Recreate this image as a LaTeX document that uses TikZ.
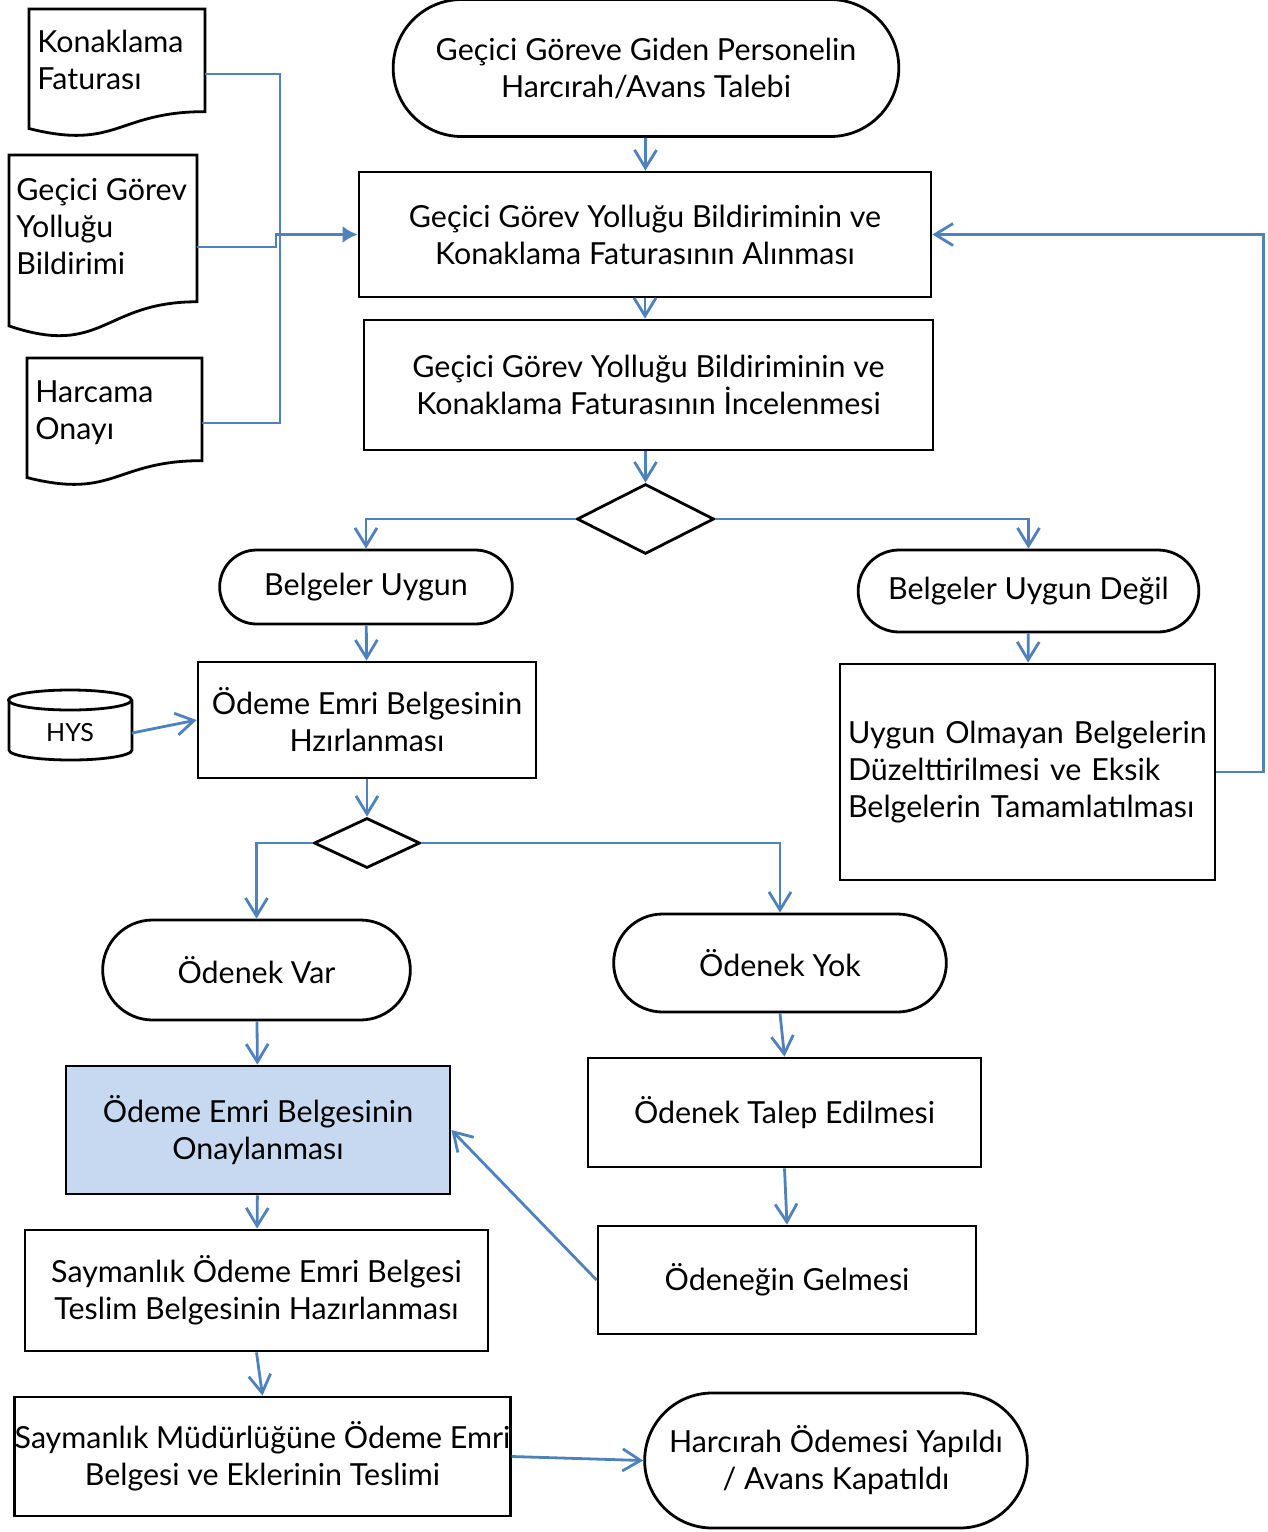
\documentclass[tikz,border=0pt]{standalone}
\usepackage{fontspec}
\setmainfont{Lato}
\usepackage{tikz}
\usetikzlibrary{shapes.geometric, shapes.misc, arrows.meta, positioning, calc}
\definecolor{flowblue}{RGB}{79,129,189}
\definecolor{approvefill}{RGB}{198,217,241}
\tikzstyle{process} = [rectangle, draw=black, line width=1.4pt, align=center, inner sep=3pt]
\tikzstyle{terminal} = [rounded rectangle, draw=black, line width=1.4pt, align=center]
\tikzstyle{decision} = [diamond, draw=black, line width=1.4pt, inner sep=0pt]
\tikzstyle{doctext} = [anchor=north west, inner sep=0pt, align=left]
\tikzstyle{link} = [line width=1.4pt, draw=flowblue, -{Straight Barb[length=9pt,width=11pt]}]
% document outline: left x, top y, right x, full height
\newcommand{\docshape}[4]{%
  \draw[line width=1.4pt] (#1,#2) -- (#3,#2) -- (#3,{#2+0.802*#4})
    .. controls ({(#1+#3)/2},{#2+0.802*#4}) and ({(#1+#3)/2},{#2+1.1075*#4}) .. (#1,{#2+0.934*#4}) -- cycle;}

\begin{document}
\begin{tikzpicture}[x=0.5pt, y=-0.5pt, font=\fontsize{15.2}{18.5}\selectfont]
    \useasboundingbox (0,0) rectangle (1268,1532);

    % Input documents
    \docshape{29}{9}{205}{128}
    \docshape{9}{155}{197}{183}
    \docshape{27}{358}{202}{128}
    \node[doctext] (doc1) at (37,30) {Konaklama\\Faturası};
    \node[doctext] (doc2) at (16,178) {Geçici Görev\\Yolluğu\\Bildirimi};
    \node[doctext] (doc3) at (35,380) {Harcama\\Onayı};
    \coordinate (doc1out) at (205,74);
    \coordinate (doc2out) at (197,247);
    \coordinate (doc3out) at (202,423);
    \coordinate (join) at (280,235);

    % Main flow
    \node[terminal, minimum width=259.5pt, minimum height=68.5pt] (start) at (646,68) {Geçici Göreve Giden Personelin\\Harcırah/Avans Talebi};
    \node[process, minimum width=286pt, minimum height=62.5pt] (recv) at (645,234.5) {Geçici Görev Yolluğu Bildiriminin ve\\Konaklama Faturasının Alınması};
    \node[process, minimum width=284.5pt, minimum height=65pt] (review) at (648.5,385) {Geçici Görev Yolluğu Bildiriminin ve\\Konaklama Faturasının İncelenmesi};
    \node[decision, minimum width=68.5pt, minimum height=35pt] (check) at (645.5,519) {};
    \node[terminal, minimum width=153pt, minimum height=37pt] (ok) at (366,587) {Belgeler Uygun};
    \node[terminal, minimum width=177pt, minimum height=41pt] (notok) at (1028.5,591) {Belgeler Uygun Değil};
    \node[process, minimum width=169pt, minimum height=58pt] (prep) at (367,720) {Ödeme Emri Belgesinin\\Hzırlanması};
    \node[process, minimum width=187.5pt, minimum height=108pt, inner sep=4pt, text width=179.5pt, align=left] (fix) at (1027.5,772) {Uygun Olmayan Belgelerin\\Düzelttirilmesi ve Eksik\\Belgelerin Tamamlatılması};

    % HYS store
    \node[minimum width=61.5pt, minimum height=35pt, inner sep=0pt] (hys) at (70,733) {\fontsize{12.5}{14}\selectfont HYS};
    \draw[line width=1.4pt] (70,700) ellipse [x radius=30.75pt, y radius=5pt];
    \draw[line width=1.4pt] (9,700) -- (9,750) arc[start angle=180, end angle=360, x radius=30.75pt, y radius=5pt] -- (132,700);

    \node[decision, minimum width=53pt, minimum height=25pt] (fund) at (367,843) {};
    \node[terminal, minimum width=160.5pt, minimum height=50pt] (hasfund) at (256.5,970) {Ödenek Var};
    \node[terminal, minimum width=173pt, minimum height=49pt] (nofund) at (780,963) {Ödenek Yok};
    \node[process, fill=approvefill, minimum width=192pt, minimum height=64pt] (approve) at (258,1130) {Ödeme Emri Belgesinin\\Onaylanması};
    \node[process, minimum width=196.5pt, minimum height=54.5pt] (request) at (784.5,1112.5) {Ödenek Talep Edilmesi};
    \node[process, minimum width=189pt, minimum height=54pt] (arrive) at (787,1280) {Ödeneğin Gelmesi};
    \node[process, minimum width=231.5pt, minimum height=60.5pt] (slip) at (256.5,1290.5) {Saymanlık Ödeme Emri Belgesi\\Teslim Belgesinin Hazırlanması};
    \node[process, minimum width=246.5pt, minimum height=59.5pt, inner sep=0pt] (deliver) at (262.5,1456.5) {Saymanlık Müdürlüğüne Ödeme Emri\\Belgesi ve Eklerinin Teslimi};
    \node[terminal, minimum width=198pt, minimum height=67.5pt] (done) at (836,1460.5) {Harcırah Ödemesi Yapıldı\\/ Avans Kapatıldı};

    % Connectors
    \draw[link, -] (doc1out) -| (join) |- (doc3out);
    \draw[link, -{Latex[length=7.5pt,width=8.5pt]}] (doc2out) -- ++(79,0) |- (recv.west);
    \draw[link] (start) -- (recv);
    \draw[link] (recv.south) -- (recv.south |- review.north);
    \draw[link] (check.north |- review.south) -- (check.north);
    \draw[link] (check.west) -| (ok.north);
    \draw[link] (check.east) -| (notok.north);
    \draw[link] (ok) -- (prep);
    \draw[link] (notok) -- (fix);
    \draw[link] (hys.east) -- (prep.west);
    \draw[link] (fix.east) -- ++(47,0) |- (recv.east);
    \draw[link] (prep) -- (fund);
    \draw[link] (fund.west) -| (hasfund.north);
    \draw[link] (fund.east) -| (nofund.north);
    \draw[link] (hasfund) -- (approve);
    \draw[link] (nofund.south) -- (request.north);
    \draw[link] (request.south) -- (arrive.north);
    \draw[link] (arrive.west) -- (approve.east);
    \draw[link] (approve) -- (slip);
    \draw[link] (slip.south) -- (deliver.north);
    \draw[link] (deliver.east) -- (done.west);
\end{tikzpicture}
\end{document}
